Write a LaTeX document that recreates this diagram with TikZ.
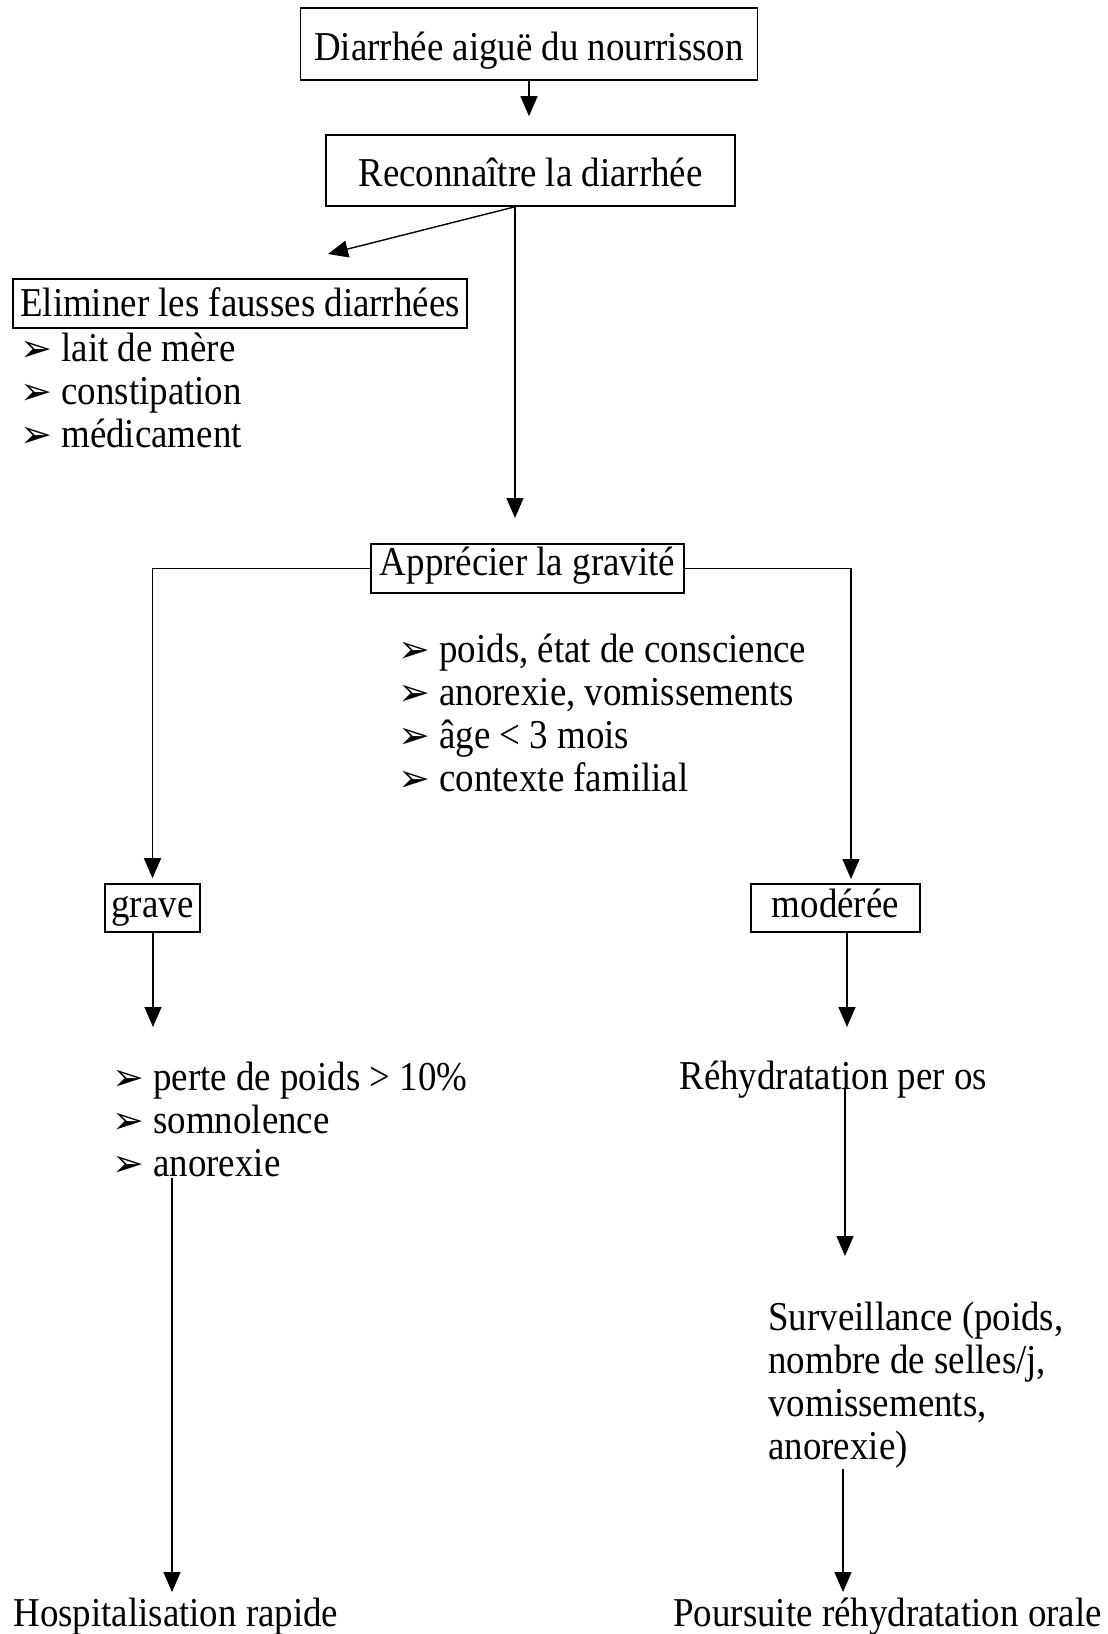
\documentclass[tikz,border=0pt]{standalone}
\usepackage{fontspec}
\setmainfont{Liberation Serif}[FakeStretch=0.9]
\newfontfamily\symfont{DejaVu Sans}
\usetikzlibrary{arrows.meta}
\newcommand{\puce}{\makebox[19pt][l]{\hspace{-1.5pt}\symfont\fontsize{19}{19}\selectfont ➢}}

\begin{document}
\begin{tikzpicture}[x=0.5pt,y=-0.5pt,
    font=\fontsize{20.5}{21.5}\selectfont,
    >={Triangle[length=10pt,width=8.5pt]},
    boite/.style={draw,line width=0.8pt,inner sep=0pt},
    liste/.style={align=left,inner sep=0pt,anchor=north west},
    fleche/.style={->,line width=0.7pt}]
    \useasboundingbox (0,0) rectangle (1108,1634);
    \node[boite,minimum width=228.5pt,minimum height=36pt,text height=17pt,text depth=1pt] (n0) at (529,44) {Diarrhée aiguë du nourrisson};
    \node[boite,minimum width=204.5pt,minimum height=35.5pt,text height=17pt,text depth=1pt] (n1) at (530.5,170.5) {Reconnaître la diarrhée};
    \node[boite,minimum width=227pt,minimum height=24.5pt,text height=15pt,text depth=2pt] (n2) at (240,303.5) {Eliminer les fausses diarrhées};
    \node[liste] (n3) at (23,333) {\puce lait de mère\\ \puce constipation\\ \puce médicament};
    \node[boite,minimum width=156.5pt,minimum height=24.5pt,text height=14pt,text depth=7.5pt] (n4) at (527.5,568.5) {Apprécier la gravité};
    \node[liste] (n5) at (401,634) {\puce poids, état de conscience\\ \puce anorexie, vomissements\\ \puce âge < 3 mois\\ \puce contexte familial};
    \node[boite,minimum width=47.5pt,minimum height=24pt,text height=14pt,text depth=5pt] (n6) at (152.5,908) {grave};
    \node[boite,minimum width=84.5pt,minimum height=24pt,text height=14pt,text depth=5pt] (n7) at (835.5,908) {modérée};
    \node[liste] (n8) at (115,1062) {\puce perte de poids > 10\%\\ \puce somnolence\\ \puce anorexie};
    \node[inner sep=0pt,anchor=base west] (n9) at (13,1626) {Hospitalisation rapide};
    \node[inner sep=0pt,anchor=base west] (n10) at (679,1089) {Réhydratation per os};
    \node[liste] (n11) at (768,1302) {Surveillance (poids,\\ nombre de selles/j,\\ vomissements,\\ anorexie)};
    \node[inner sep=0pt,anchor=base west] (n12) at (673,1626) {Poursuite réhydratation orale};
    % points libres des fleches
    \coordinate (c0) at (328,254);
    \coordinate (c1) at (515,518);
    \coordinate (c2) at (851,879);
    \coordinate (c3) at (153,1027);
    \coordinate (c4) at (847,1027);
    \coordinate (c5) at (172,1592);
    \coordinate (c6) at (845,1256);
    \coordinate (c7) at (843,1592);
    \draw[fleche,shorten >=9pt] (n0) -- (n0 |- n1.north);
    \draw[fleche] (n1.south -| c1) -- (c0);
    \draw[fleche] (n1.south -| c1) -- (c1);
    \draw[fleche,shorten >=2.5pt] (n4.west) -| (n6.north);
    \draw[fleche] (n4.east) -| (c2);
    \draw[fleche] (n6.south -| c3) -- (c3);
    \draw[fleche] (n7.south -| c4) -- (c4);
    \draw[fleche] (n8.south -| c5) -- (c5);
    \draw[fleche] (n10.base -| c6) -- (c6);
    \draw[fleche] (n11.south -| c7) -- (c7);
\end{tikzpicture}
\end{document}
